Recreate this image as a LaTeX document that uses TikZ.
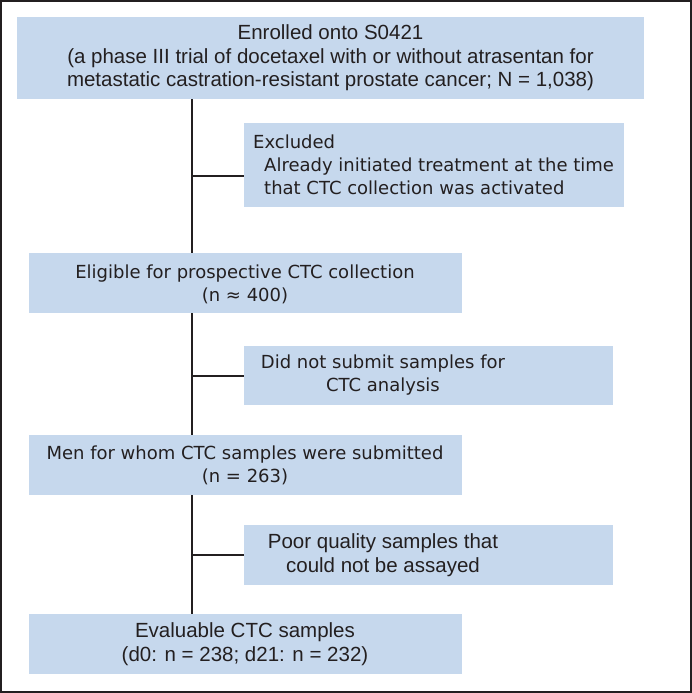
\documentclass[tikz,border=0pt]{standalone}
\usepackage{fontspec}
\setmainfont{Liberation Sans}
\newfontfamily\widefont{DejaVu Sans}

\definecolor{boxblue}{RGB}{198,216,237}
\definecolor{linegray}{RGB}{35,31,32}

\tikzset{
    box/.style = {fill = boxblue, inner sep = 0pt, anchor = north west},
    narrowtext/.style = {align = center, inner sep = 0pt, font = \fontsize{20.5}{23.5}\selectfont, text = linegray},
    widetext/.style = {inner sep = 0pt, font = \widefont\fontsize{18}{23}\selectfont, text = linegray},
    flow/.style = {draw = linegray, line width = 1.6pt},
}

\begin{document}
\begin{tikzpicture}[x=1pt, y=-1pt]
    \useasboundingbox (0,0) rectangle (692,693);
    \draw[linegray, line width = 1.5pt] (1,1) rectangle (691,692);

    % boxes
    \node[box, minimum width = 627pt, minimum height = 82pt] (enrolled) at (17,17) {};
    \node[box, minimum width = 380pt, minimum height = 84pt] (excluded) at (244,123) {};
    \node[box, minimum width = 433pt, minimum height = 60pt] (eligible) at (29,253) {};
    \node[box, minimum width = 369pt, minimum height = 59pt] (nosample) at (244,346) {};
    \node[box, minimum width = 433pt, minimum height = 60pt] (submitted) at (29,435) {};
    \node[box, minimum width = 369pt, minimum height = 60pt] (poor) at (244,525) {};
    \node[box, minimum width = 433pt, minimum height = 60pt] (evaluable) at (29,614) {};

    % texts
    \node[narrowtext] (enrolledtext) at (330.5,58) {Enrolled onto S0421\\(a phase III trial of docetaxel with or without atrasentan for\\metastatic castration-resistant prostate cancer; N = 1,038)};
    \node[widetext, align = left, anchor = west] (excludedtext) at (253,165) {Excluded\\\hspace*{11pt}Already initiated treatment at the time\\\hspace*{11pt}that CTC collection was activated};
    \node[widetext, align = center] (eligibletext) at (245,284) {Eligible for prospective CTC collection\\(n ≈ 400)};
    \node[widetext, align = center] (nosampletext) at (383,375) {Did not submit samples for\\CTC analysis};
    \node[widetext, align = center] (submittedtext) at (245,465) {Men for whom CTC samples were submitted\\(n = 263)};
    \node[narrowtext] (poortext) at (383,555) {Poor quality samples that\\could not be assayed};
    \node[narrowtext] (evaluabletext) at (245,644) {Evaluable CTC samples\\(d0: n = 238; d21: n = 232)};

    % connectors
    \coordinate (split1) at (192,176);
    \coordinate (split2) at (192,376);
    \coordinate (split3) at (192,555);
    \draw[flow] (enrolled.south -| split1) -- (eligible.north -| split1);
    \draw[flow] (eligible.south -| split2) -- (submitted.north -| split2);
    \draw[flow] (submitted.south -| split3) -- (evaluable.north -| split3);
    \draw[flow] (split1) -- (split1 -| excluded.west);
    \draw[flow] (split2) -- (split2 -| nosample.west);
    \draw[flow] (split3) -- (split3 -| poor.west);
\end{tikzpicture}
\end{document}
